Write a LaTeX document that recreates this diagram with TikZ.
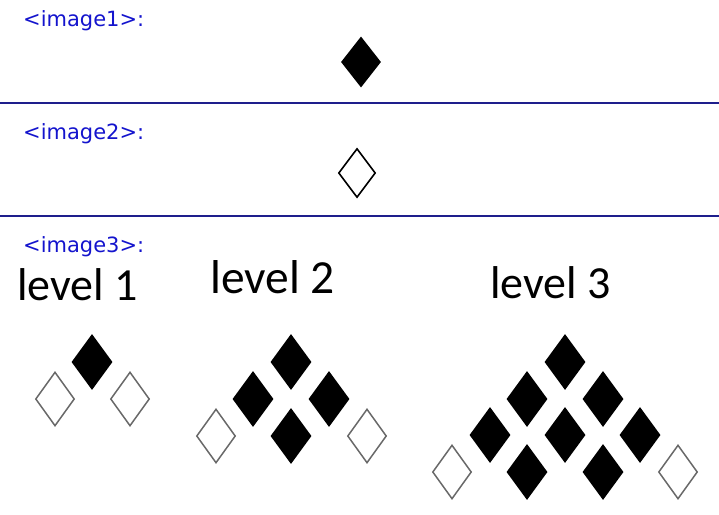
\documentclass[tikz,border=0pt]{standalone}
\usepackage{fontspec}
\setmainfont{Carlito}
\newfontfamily\tagfont{DejaVu Sans}
\usepackage{xcolor}
\usepackage{tikz}
\usetikzlibrary{shapes.geometric}

\definecolor{tagblue}{RGB}{20,20,205}
\definecolor{rulenavy}{RGB}{30,30,140}
\definecolor{rimgray}{RGB}{105,105,105}

\tikzset{
  tag/.style={anchor=base west, inner sep=0pt, text=tagblue, font=\tagfont\fontsize{21}{23}\selectfont},
  lvl/.style={anchor=base west, inner sep=0pt, font=\fontsize{46}{50}\selectfont},
  fulldia/.style={diamond, fill=black, minimum width=41pt, minimum height=56pt, inner sep=0pt},
  hollowdia/.style={diamond, draw=rimgray, fill=white, line width=1.5pt, minimum width=39pt, minimum height=54pt, inner sep=0pt}
}

\begin{document}
\begin{tikzpicture}[x=1pt, y=-1pt]
  \useasboundingbox (0,0) rectangle (719,514);

  % Righe di separazione
  \draw[rulenavy, line width=1.2pt] (0,103) -- (719,103);
  \draw[rulenavy, line width=1.2pt] (0,216) -- (719,216);

  % Etichette blu
  \node[tag] (tag1) at (23,26) {<image1>:};
  \node[tag] (tag2) at (23,139) {<image2>:};
  \node[tag] (tag3) at (23,252) {<image3>:};

  % Rombi singoli
  \node[fulldia, minimum width=40pt, minimum height=51pt] (single1) at (361,62) {};
  \node[hollowdia, draw=black, line width=1.6pt, minimum width=37pt, minimum height=49pt] (single2) at (357,173) {};

  % Titoli dei livelli
  \node[lvl] (title1) at (17,300) {level 1};
  \node[lvl, font=\fontsize{47.5}{50}\selectfont] (title2) at (210,293) {level 2};
  \node[lvl] (title3) at (490,298) {level 3};

  % Livello 1
  \node[fulldia] (a1) at (92,362) {};
  \node[hollowdia] (a1l) at (55,399) {};
  \node[hollowdia] (a1r) at (130,399) {};

  % Livello 2
  \node[fulldia] (b1) at (291,362) {};
  \node[fulldia] (b2l) at (253,399) {};
  \node[fulldia] (b2r) at (329,399) {};
  \node[fulldia] (b3) at (291,436) {};
  \node[hollowdia] (b3l) at (216,436) {};
  \node[hollowdia] (b3r) at (367,436) {};

  % Livello 3
  \node[fulldia] (c1) at (565,362) {};
  \node[fulldia] (c2l) at (527,399) {};
  \node[fulldia] (c2r) at (603,399) {};
  \node[fulldia] (c3l) at (490,435) {};
  \node[fulldia] (c3) at (565,435) {};
  \node[fulldia] (c3r) at (640,435) {};
  \node[fulldia] (c4l) at (527,472) {};
  \node[fulldia] (c4r) at (603,472) {};
  \node[hollowdia] (c4ll) at (452,472) {};
  \node[hollowdia] (c4rr) at (678,472) {};
\end{tikzpicture}
\end{document}
